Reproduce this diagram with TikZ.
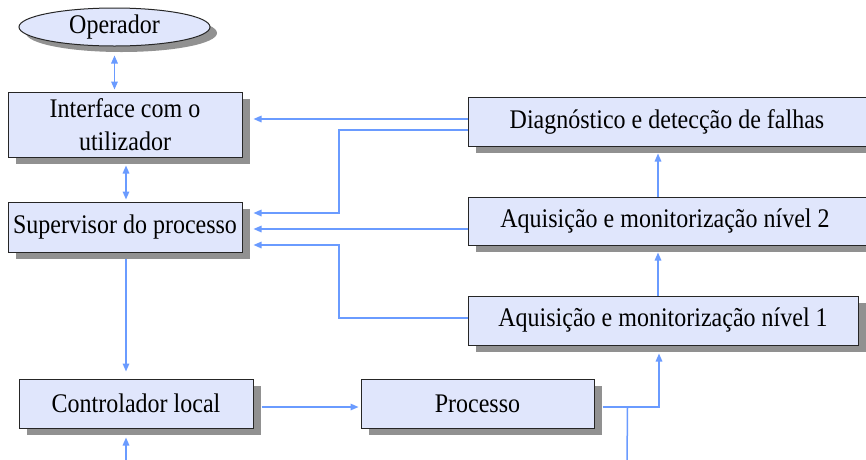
\documentclass[tikz,border=0pt]{standalone}
\usepackage{graphicx}
\usepackage{fontspec}
\setmainfont{Liberation Serif}
\usetikzlibrary{shapes.geometric,shadows,arrows.meta,calc}
\definecolor{boxfill}{RGB}{224,230,252}
\definecolor{shadowgray}{RGB}{145,145,145}
\definecolor{arrowblue}{RGB}{106,155,255}
\newcommand{\tallt}[1]{\scalebox{1}[1.12]{#1}}
\tikzset{
  shad/.style={drop shadow={shadow xshift=8pt,shadow yshift=-7pt,fill=shadowgray,opacity=1}},
  blockbox/.style={rectangle,draw=black!85,line width=1pt,fill=boxfill,shad,inner sep=0pt,
    font=\fontsize{24}{33}\selectfont,align=center},
  opnode/.style={ellipse,draw=black!85,line width=1pt,fill=boxfill,
    drop shadow={shadow xshift=7pt,shadow yshift=-6pt,fill=shadowgray,opacity=1},
    inner sep=0pt,font=\fontsize{24}{28}\selectfont},
  conn/.style={draw=arrowblue,line width=1.5pt},
  tip/.style={-{Triangle[length=8pt,width=6.5pt]}},
  tips/.style={{Triangle[length=8pt,width=6.5pt]}-{Triangle[length=8pt,width=6.5pt]}}
}
\begin{document}
\begin{tikzpicture}[x=1pt,y=-1pt]
\useasboundingbox[fill=white] (0,0) rectangle (866,459);
% nodes
\node[opnode,minimum width=191pt,minimum height=38pt] (op) at (114.5,27) {\tallt{Operador}};
\node[blockbox,minimum width=234pt,minimum height=65pt] (iface) at (125,124.5) {\tallt{Interface com o}\\\tallt{utilizador}};
\node[blockbox,minimum width=234pt,minimum height=50pt] (sup) at (125,227) {\tallt{Supervisor do processo}};
\node[blockbox,minimum width=234pt,minimum height=49pt] (ctrl) at (136,403.5) {\tallt{Controlador local}};
\node[blockbox,minimum width=233pt,minimum height=49pt] (proc) at (477.5,403.5) {\tallt{Processo}};
\node[blockbox,minimum width=402pt,minimum height=49pt] (diag) at (669,121.5) {\hspace*{-4pt}\tallt{Diagnóstico e detecção de falhas}};
\node[blockbox,minimum width=402pt,minimum height=48pt] (n2) at (669,221) {\hspace*{-8pt}\tallt{Aquisição e monitorização nível 2}};
\node[blockbox,minimum width=390pt,minimum height=49pt] (n1) at (663,320.5) {\tallt{Aquisição e monitorização nível 1}};
% helper coordinates
\coordinate (j1) at (339,213);
\coordinate (j2) at (339,245);
\coordinate (inC) at (126,462);
\coordinate (outP) at (627,462);
% connectors
\draw[conn,tips] ([yshift=-9pt]op.south) -- ($(op.south |- iface.north)+(0,-2)$);
\draw[conn,tips] ($(iface.south)+(1,8)$) -- ($(sup.north)+(1,-2)$);
\draw[conn,tip] ($(sup.south)+(1,6)$) -- ($(sup.south |- ctrl.north)+(1,-7)$);
\draw[conn,tip] (inC) -- ($(sup.south |- ctrl.south)+(1,9)$);
\draw[conn,tip] ($(ctrl.east)+(8,3.5)$) -- ($(proc.west)+(-2,3.5)$);
\draw[conn,tip] ($(proc.east)+(8,3.5)$) -| ($(n1.south)+(-4,8)$);
\draw[conn] ($(proc.east)+(33,3.5)$) -- (outP);
\draw[conn,tip] ($(n1.north)+(-5,0)$) -- ($(n2.south)+(-11,7)$);
\draw[conn,tip] ($(n2.north)+(-11,0)$) -- ($(diag.south)+(-11,7)$);
\draw[conn,tip] ($(diag.west)+(0,-2.5)$) -- ($(iface.east)+(11,-5.5)$);
\draw[conn,tip] ($(diag.west)+(0,8.5)$) -| (j1) -- ($(sup.east)+(11,-14)$);
\draw[conn,tip] ($(n2.west)+(0,8)$) -- ($(sup.east)+(11,2)$);
\draw[conn,tip] ($(n1.west)+(0,-2.5)$) -| (j2) -- ($(sup.east)+(11,18)$);
\end{tikzpicture}
\end{document}
